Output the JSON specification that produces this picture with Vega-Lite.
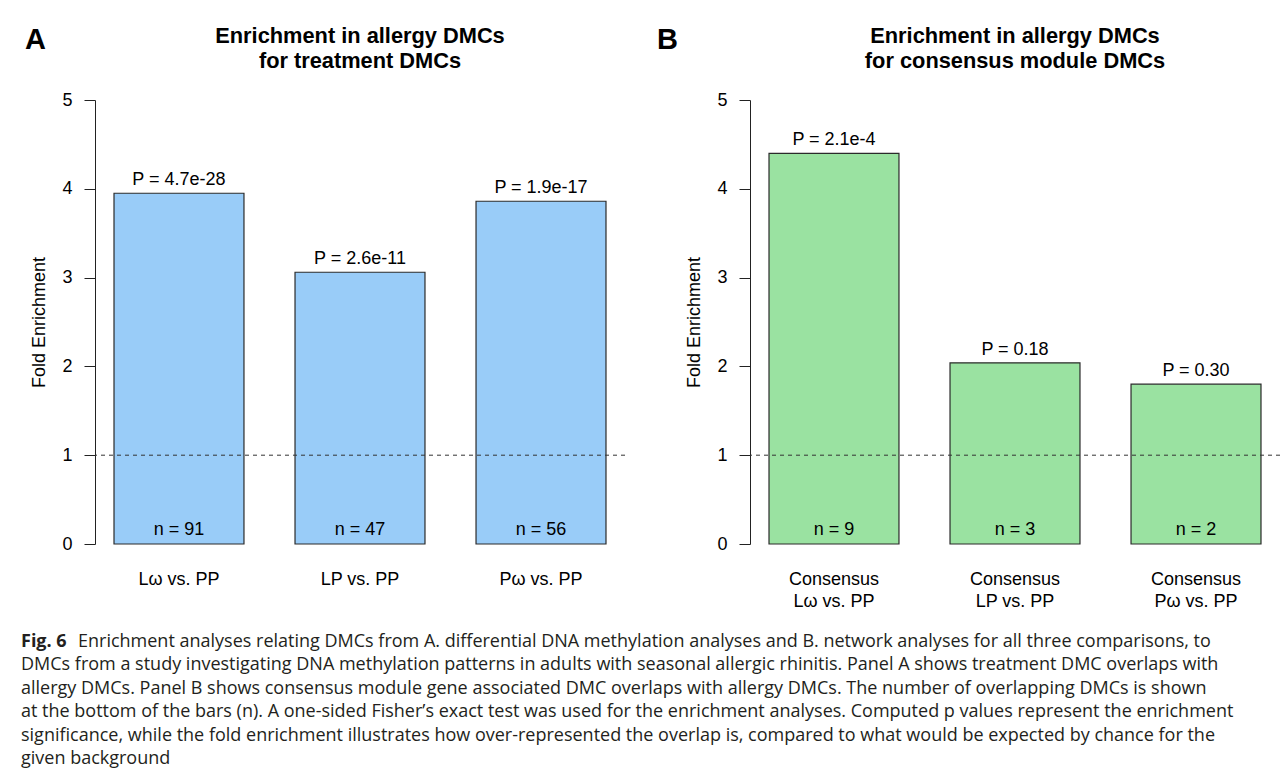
{
  "$schema": "https://vega.github.io/schema/vega-lite/v6.json",
  "background": "white",
  "padding": {"left": 21, "top": 26, "right": 0, "bottom": 0},
  "spacing": 20,
  "config": {
    "view": {"stroke": null},
    "axis": {"labelFont": "Liberation Sans", "titleFont": "Liberation Sans", "labelColor": "#000", "titleColor": "#000"}
  },
  "vconcat": [
    {
      "spacing": 30,
      "hconcat": [
        {
          "title": {"text": "A", "anchor": "start", "frame": "bounds", "font": "Liberation Sans", "fontSize": 29, "fontWeight": "bold", "color": "#000", "offset": 0, "dy": 29, "dx": -6},
          "vconcat": [
            {
              "width": 530, "height": 444,
              "title": {"text": ["Enrichment in allergy DMCs", "for treatment DMCs"], "font": "Liberation Sans", "fontSize": 21.8, "fontWeight": "bold", "lineHeight": 25, "offset": 18, "color": "#000", "anchor": "middle", "frame": "group"},
              "data": {"values": [
                {"comparison": "Lω vs. PP", "fold": 3.95, "pLabel": "P = 4.7e-28", "nLabel": "n = 91"},
                {"comparison": "LP vs. PP", "fold": 3.06, "pLabel": "P = 2.6e-11", "nLabel": "n = 47"},
                {"comparison": "Pω vs. PP", "fold": 3.86, "pLabel": "P = 1.9e-17", "nLabel": "n = 56"}
              ]},
              "layer": [
                {
                  "mark": {"type": "bar", "fill": "#99CCF8", "stroke": "#2b2b2b", "strokeWidth": 1.2},
                  "encoding": {
                    "x": {"field": "comparison", "type": "nominal", "sort": null, "scale": {"paddingInner": 0.282, "paddingOuter": 0.105}, "axis": {"title": null, "labelAngle": 0, "ticks": false, "tickSize": 0, "domain": false, "labelFontSize": 18, "labelPadding": 26, "labelLineHeight": 22, "labelExpr": "split(datum.label, '|')"}},
                    "y": {"field": "fold", "type": "quantitative", "scale": {"domain": [0, 5], "nice": false}, "axis": {"title": "Fold Enrichment", "values": [0, 1, 2, 3, 4, 5], "format": "d", "labelFlush": false, "grid": false, "tickSize": 11, "tickColor": "#222", "domainColor": "#222", "labelPadding": 12, "labelFontSize": 18, "titleFontSize": 18, "titleFontWeight": "normal", "titlePadding": 13}}
                  }
                },
                {
                  "data": {"values": [{"ref": 1}]},
                  "mark": {"type": "rule", "strokeDash": [4, 4], "color": "#333", "strokeWidth": 1},
                  "encoding": {"y": {"field": "ref", "type": "quantitative", "axis": {"title": "Fold Enrichment"}}}
                },
                {
                  "mark": {"type": "text", "dy": -13, "fontSize": 18, "font": "Liberation Sans", "color": "#000"},
                  "encoding": {
                    "x": {"field": "comparison", "type": "nominal", "sort": null},
                    "y": {"field": "fold", "type": "quantitative", "axis": {"title": "Fold Enrichment"}},
                    "text": {"field": "pLabel"}
                  }
                },
                {
                  "mark": {"type": "text", "dy": -14, "fontSize": 18, "font": "Liberation Sans", "color": "#000"},
                  "encoding": {
                    "x": {"field": "comparison", "type": "nominal", "sort": null},
                    "y": {"datum": 0, "type": "quantitative"},
                    "text": {"field": "nLabel"}
                  }
                }
              ]
            }
          ]
        },
        {
          "title": {"text": "B", "anchor": "start", "frame": "bounds", "font": "Liberation Sans", "fontSize": 29, "fontWeight": "bold", "color": "#000", "offset": 0, "dy": 29, "dx": -29},
          "vconcat": [
            {
              "width": 530, "height": 444,
              "title": {"text": ["Enrichment in allergy DMCs", "for consensus module DMCs"], "font": "Liberation Sans", "fontSize": 21.8, "fontWeight": "bold", "lineHeight": 25, "offset": 18, "color": "#000", "anchor": "middle", "frame": "group"},
              "data": {"values": [
                {"comparison": "Consensus|Lω vs. PP", "fold": 4.40, "pLabel": "P = 2.1e-4", "nLabel": "n = 9"},
                {"comparison": "Consensus|LP vs. PP", "fold": 2.04, "pLabel": "P = 0.18", "nLabel": "n = 3"},
                {"comparison": "Consensus|Pω vs. PP", "fold": 1.80, "pLabel": "P = 0.30", "nLabel": "n = 2"}
              ]},
              "layer": [
                {
                  "mark": {"type": "bar", "fill": "#9AE2A1", "stroke": "#2b2b2b", "strokeWidth": 1.2},
                  "encoding": {
                    "x": {"field": "comparison", "type": "nominal", "sort": null, "scale": {"paddingInner": 0.282, "paddingOuter": 0.105}, "axis": {"title": null, "labelAngle": 0, "ticks": false, "tickSize": 0, "domain": false, "labelFontSize": 18, "labelPadding": 26, "labelLineHeight": 22, "labelExpr": "split(datum.label, '|')"}},
                    "y": {"field": "fold", "type": "quantitative", "scale": {"domain": [0, 5], "nice": false}, "axis": {"title": "Fold Enrichment", "values": [0, 1, 2, 3, 4, 5], "format": "d", "labelFlush": false, "grid": false, "tickSize": 11, "tickColor": "#222", "domainColor": "#222", "labelPadding": 12, "labelFontSize": 18, "titleFontSize": 18, "titleFontWeight": "normal", "titlePadding": 13}}
                  }
                },
                {
                  "data": {"values": [{"ref": 1}]},
                  "mark": {"type": "rule", "strokeDash": [4, 4], "color": "#333", "strokeWidth": 1},
                  "encoding": {"y": {"field": "ref", "type": "quantitative", "axis": {"title": "Fold Enrichment"}}}
                },
                {
                  "mark": {"type": "text", "dy": -13, "fontSize": 18, "font": "Liberation Sans", "color": "#000"},
                  "encoding": {
                    "x": {"field": "comparison", "type": "nominal", "sort": null},
                    "y": {"field": "fold", "type": "quantitative", "axis": {"title": "Fold Enrichment"}},
                    "text": {"field": "pLabel"}
                  }
                },
                {
                  "mark": {"type": "text", "dy": -14, "fontSize": 18, "font": "Liberation Sans", "color": "#000"},
                  "encoding": {
                    "x": {"field": "comparison", "type": "nominal", "sort": null},
                    "y": {"datum": 0, "type": "quantitative"},
                    "text": {"field": "nLabel"}
                  }
                }
              ]
            }
          ]
        }
      ]
    },
    {
      "width": 1180, "height": 141,
      "data": {"values": [
        {"line": 1, "seg": "label", "text": "Fig. 6"},
        {"line": 1, "seg": "body", "text": "Enrichment analyses relating DMCs from A. differential DNA methylation analyses and B. network analyses for all three comparisons, to"},
        {"line": 2, "seg": "body", "text": "DMCs from a study investigating DNA methylation patterns in adults with seasonal allergic rhinitis. Panel A shows treatment DMC overlaps with"},
        {"line": 3, "seg": "body", "text": "allergy DMCs. Panel B shows consensus module gene associated DMC overlaps with allergy DMCs. The number of overlapping DMCs is shown"},
        {"line": 4, "seg": "body", "text": "at the bottom of the bars (n). A one-sided Fisher’s exact test was used for the enrichment analyses. Computed p values represent the enrichment"},
        {"line": 5, "seg": "body", "text": "significance, while the fold enrichment illustrates how over-represented the overlap is, compared to what would be expected by chance for the"},
        {"line": 6, "seg": "body", "text": "given background"}
      ]},
      "encoding": {
        "x": {"datum": 0, "type": "quantitative", "scale": {"domain": [0, 1]}, "axis": null},
        "y": {"field": "line", "type": "ordinal", "axis": null, "scale": {"type": "point", "padding": 0.5}},
        "text": {"field": "text"}
      },
      "layer": [
        {
          "transform": [{"filter": "datum.seg === 'label'"}],
          "mark": {"type": "text", "align": "left", "baseline": "middle", "font": "Open Sans", "fontSize": 18, "fontWeight": "bold", "color": "#231f20", "dx": -74}
        },
        {
          "transform": [{"filter": "datum.seg === 'body' && datum.line === 1"}],
          "mark": {"type": "text", "align": "left", "baseline": "middle", "font": "Open Sans", "fontSize": 18, "color": "#231f20", "dx": -17}
        },
        {
          "transform": [{"filter": "datum.line > 1"}],
          "mark": {"type": "text", "align": "left", "baseline": "middle", "font": "Open Sans", "fontSize": 18, "color": "#231f20", "dx": -74}
        }
      ]
    }
  ]
}
